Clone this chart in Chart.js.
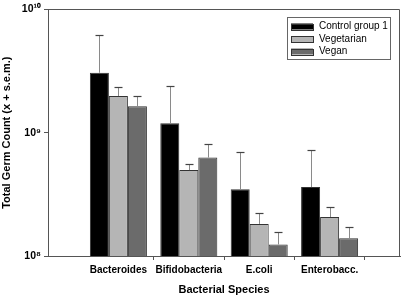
<!DOCTYPE html>
<html>
<head>
<meta charset="utf-8">
<script src="https://cdn.jsdelivr.net/npm/chart.js@4.4.0/dist/chart.umd.min.js"></script>
<style>
  html, body { margin: 0; padding: 0; background: #fff; }
  #wrap { width: 404px; height: 297px; }
</style>
</head>
<body>
<div id="wrap"><canvas id="c" width="404" height="297"></canvas></div>
<script>
// categories and values (means), error = s.e.m. added on top
const categories = ['Bacteroides', 'Bifidobacteria', 'E.coli', 'Enterobacc.']
const seriesNames = ['Control group 1', 'Vegetarian', 'Vegan']
const control = [3.06e9, 1.19e9, 3.47e8, 3.62e8]
const controlSem = [3.1e9, 1.2e9, 3.46e8, 3.62e8]
const vegetarian = [1.98e9, 4.97e8, 1.82e8, 2.07e8]
const vegetarianSem = [3.8e8, 6.2e7, 4.1e7, 4.1e7]
const vegan = [1.64e9, 6.28e8, 1.24e8, 1.39e8]
const veganSem = [3.6e8, 1.77e8, 3.3e7, 3.3e7]
const yTicks = [1e8, 1e9, 1e10]
const yTickLabels = ['10⁸', '10⁹', '10¹⁰']

const AXIS = '#555'
const FONT = "'Liberation Sans', Arial, sans-serif"

// empty slot on each side so the groups sit at 1/5 .. 4/5 of the width
const pad = arr => [null, ...arr, null]
const labels = pad(categories)

const errorBars = {
  id: 'errorBars',
  afterDatasetsDraw(chart) {
    const ctx = chart.ctx
    const y = chart.scales.y
    ctx.save()
    chart.data.datasets.forEach((ds, i) => {
      const meta = chart.getDatasetMeta(i)
      meta.data.forEach((bar, j) => {
        const v = ds.data[j]
        const e = ds.sem[j]
        if (v == null || e == null) return
        const top = Math.round(y.getPixelForValue(v + e)) + 0.5
        const x = Math.round(bar.x) + 0.5
        ctx.strokeStyle = '#8a8a8a'
        ctx.lineWidth = 1
        ctx.beginPath()
        ctx.moveTo(x, bar.y)
        ctx.lineTo(x, top)
        ctx.stroke()
        ctx.strokeStyle = '#444'
        ctx.lineWidth = 1.2
        ctx.beginPath()
        ctx.moveTo(x - 4, top)
        ctx.lineTo(x + 4, top)
        ctx.stroke()
      })
    })
    ctx.restore()
  }
}

const frameAndLegend = {
  id: 'frameAndLegend',
  afterDraw(chart) {
    const ctx = chart.ctx
    const a = chart.chartArea
    ctx.save()
    ctx.strokeStyle = AXIS
    ctx.lineWidth = 1
    ctx.beginPath()
    ctx.moveTo(Math.round(a.left) + 0.5, Math.round(a.top) + 0.5)
    ctx.lineTo(Math.round(a.right) - 0.5, Math.round(a.top) + 0.5)
    ctx.lineTo(Math.round(a.right) - 0.5, Math.round(a.bottom) + 0.5)
    ctx.stroke()

    // legend box
    ctx.strokeStyle = '#666'
    ctx.strokeRect(287.5, 17.5, 103, 42)
    ctx.font = '10px ' + FONT
    ctx.textBaseline = 'middle'
    ctx.fillStyle = '#000'
    chart.data.datasets.forEach((ds, i) => {
      const cy = 26.5 + i * 12.5
      ctx.fillStyle = ds.backgroundColor
      ctx.fillRect(291, cy - 3, 22, 6)
      ctx.strokeStyle = '#333'
      ctx.strokeRect(291.5, Math.round(cy - 3) + 0.5, 22, 6)
      ctx.fillStyle = '#000'
      ctx.fillText(ds.label, 319, cy)
    })
    ctx.restore()
  }
}

new Chart(document.getElementById('c'), {
  type: 'bar',
  data: {
    labels: labels,
    datasets: [
      { label: seriesNames[0], data: pad(control), sem: pad(controlSem), backgroundColor: '#000000' },
      { label: seriesNames[1], data: pad(vegetarian), sem: pad(vegetarianSem), backgroundColor: '#b5b5b5' },
      { label: seriesNames[2], data: pad(vegan), sem: pad(veganSem), backgroundColor: '#6b6b6b' }
    ].map(d => Object.assign(d, { borderColor: '#333', borderWidth: 1, borderSkipped: 'start' }))
  },
  options: {
    responsive: false,
    animation: false,
    layout: { padding: { top: 8, right: 4, left: 0, bottom: 0 } },
    plugins: { legend: { display: false }, tooltip: { enabled: false } },
    datasets: { bar: { barPercentage: 1, categoryPercentage: 0.81 } },
    scales: {
      x: {
        offset: false,
        grid: {
          drawOnChartArea: false,
          tickLength: 4,
          color: c => (c.index === 0 || c.index === labels.length - 1) ? 'rgba(0,0,0,0)' : AXIS
        },
        border: { color: AXIS },
        ticks: {
          color: '#000', padding: 4, maxRotation: 0, autoSkip: false,
          font: { family: FONT, size: 10, weight: 'bold' }
        },
        title: {
          display: true, text: 'Bacterial Species', color: '#000',
          font: { family: FONT, size: 11, weight: 'bold' },
          padding: { top: 1.5, bottom: 0 }
        },
        afterFit: s => { s.height = 41 }
      },
      y: {
        type: 'logarithmic',
        min: 1e8, max: 1e10,
        afterBuildTicks: s => { s.ticks = yTicks.map(v => ({ value: v })) },
        grid: { drawOnChartArea: false, tickLength: 4, color: AXIS },
        border: { color: AXIS },
        ticks: {
          color: '#000', padding: 3,
          font: { family: FONT, size: 10.5, weight: 'bold' },
          callback: v => yTickLabels[yTicks.indexOf(v)]
        },
        title: {
          display: true, text: 'Total Germ Count (x + s.e.m.)', color: '#000',
          font: { family: FONT, size: 11, weight: 'bold' },
          padding: { top: 0.5, bottom: 0 }
        },
        afterFit: s => { s.width = 48 }
      }
    }
  },
  plugins: [errorBars, frameAndLegend]
})
</script>
</body>
</html>
